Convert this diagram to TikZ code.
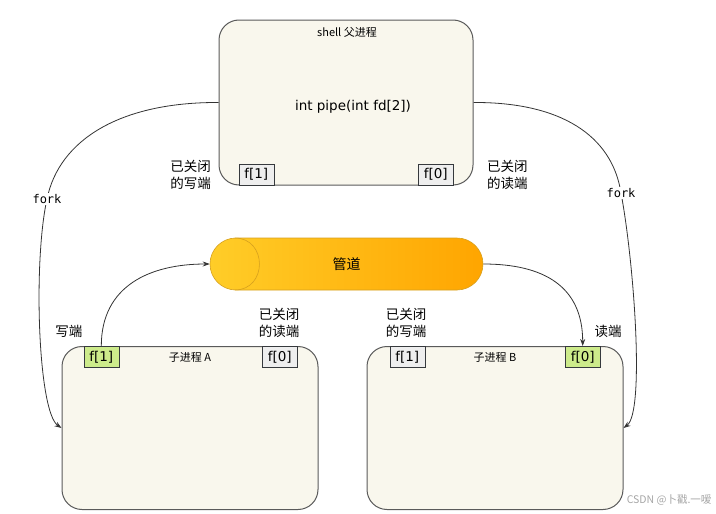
\documentclass[tikz,border=0pt]{standalone}
\usepackage{fontspec}
\setmainfont{Noto Sans CJK SC}
\newfontfamily\comicfont{DejaVu Sans}
\newfontfamily\monofont{DejaVu Sans Mono}
\usetikzlibrary{shapes.misc,arrows.meta}
\definecolor{boxfill}{HTML}{F9F7ED}
\definecolor{boxline}{HTML}{5A5A5A}
\definecolor{fdgray}{HTML}{EEEEEE}
\definecolor{fdgreen}{HTML}{CDEB8B}
\definecolor{fdline}{HTML}{36393D}
\definecolor{pipeL}{HTML}{FFCD28}
\definecolor{pipeR}{HTML}{FFA500}
\definecolor{pipeedge}{HTML}{D6A01E}

\begin{document}
\begin{tikzpicture}[x=1pt, y=-1pt, >={Stealth[length=7pt,width=5pt]},
    proc/.style={draw=boxline, fill=boxfill, line width=1pt, rounded corners=20pt,
        minimum width=256pt, minimum height=163pt, inner sep=0pt},
    fd/.style={draw=fdline, fill=fdgray, line width=0.6pt, minimum width=35pt,
        minimum height=21pt, inner sep=0pt, font=\comicfont\fontsize{13.5}{15}\selectfont},
    fdon/.style={fd, fill=fdgreen},
    lbl/.style={align=left, inner sep=0pt, font=\fontsize{13.5}{17}\selectfont},
    ttl/.style={inner sep=0pt, font=\fontsize{11}{13}\selectfont},
    forklbl/.style={fill=white, inner sep=1pt, font=\monofont\fontsize{12}{14}\selectfont},
    link/.style={draw=black!80, line width=0.8pt}]

    \useasboundingbox (0,0) rectangle (716,514);

    \node[proc, minimum width=254pt, minimum height=165pt] (shell) at (346,102.5) {};
    \node[ttl] (shellttl) at (347,32) {shell 父进程};
    \node[font=\comicfont\fontsize{13.5}{15}\selectfont] (call) at (353,107) {int pipe(int fd[2])};
    \node[fd, anchor=south west] (sf1) at ([xshift=20pt]shell.south west) {f[1]};
    \node[fd, anchor=south east] (sf0) at ([xshift=-20pt]shell.south east) {f[0]};
    \node[lbl, align=right, anchor=east] (sw) at (211,175) {已关闭\\的写端};
    \node[lbl, anchor=west] (sr) at (487,175) {已关闭\\的读端};

    \foreach \nm/\x/\lab in {ca/190/A, cb/495/B}{
        \node[proc] (\nm) at (\x,428) {};
        \node[ttl] (\nm-ttl) at ([yshift=-11pt]\nm.north) {子进程 \lab};
    }
    \node[fdon, anchor=north west] (af1) at ([xshift=22pt]ca.north west) {f[1]};
    \node[fd, anchor=north east] (af0) at ([xshift=-21pt]ca.north east) {f[0]};
    \node[fd, anchor=north west] (bf1) at ([xshift=23pt]cb.north west) {f[1]};
    \node[fdon, anchor=north east] (bf0) at ([xshift=-23pt]cb.north east) {f[0]};

    \node[lbl] (aw) at (69,331) {写端};
    \node[lbl] (ar) at (279,323) {已关闭\\的读端};
    \node[lbl] (bw) at (406,323) {已关闭\\的写端};
    \node[lbl] (br) at (608,331) {读端};

    \node[rounded rectangle, draw=pipeedge, line width=0.6pt, left color=pipeL, right color=pipeR,
        minimum width=273pt, minimum height=52pt, inner sep=0pt,
        font=\fontsize{14}{16}\selectfont] (pipe) at (346.5,264) {管道};
    \draw[pipeedge, line width=0.6pt] ([xshift=25pt,yshift=26pt]pipe.west)
        .. controls +(33pt,0pt) and +(33pt,0pt) .. ([xshift=25pt,yshift=-26pt]pipe.west);

    \draw[link, ->] (af1.north) .. controls +(0pt,60pt) and +(-60pt,0pt) .. (pipe.west);
    \draw[link, ->] (pipe.east) .. controls +(60pt,0pt) and +(0pt,60pt) .. (bf0.north);

    \draw[link, ->] (shell.west) .. controls (120,102) and (59,140) .. (47,199)
        node[forklbl] (forkA) {fork} .. controls (33,262) and (38,412) .. (ca.west);
    \draw[link, ->] (shell.east) .. controls (560,102) and (612,135) .. (621,193)
        node[forklbl] (forkB) {fork} .. controls (634,262) and (645,412) .. (cb.east);

    \node[anchor=east, text=black!35, font=\fontsize{10.5}{12}\selectfont] (mark) at (715,500) {CSDN @卜戳.一嗳};
\end{tikzpicture}
\end{document}
